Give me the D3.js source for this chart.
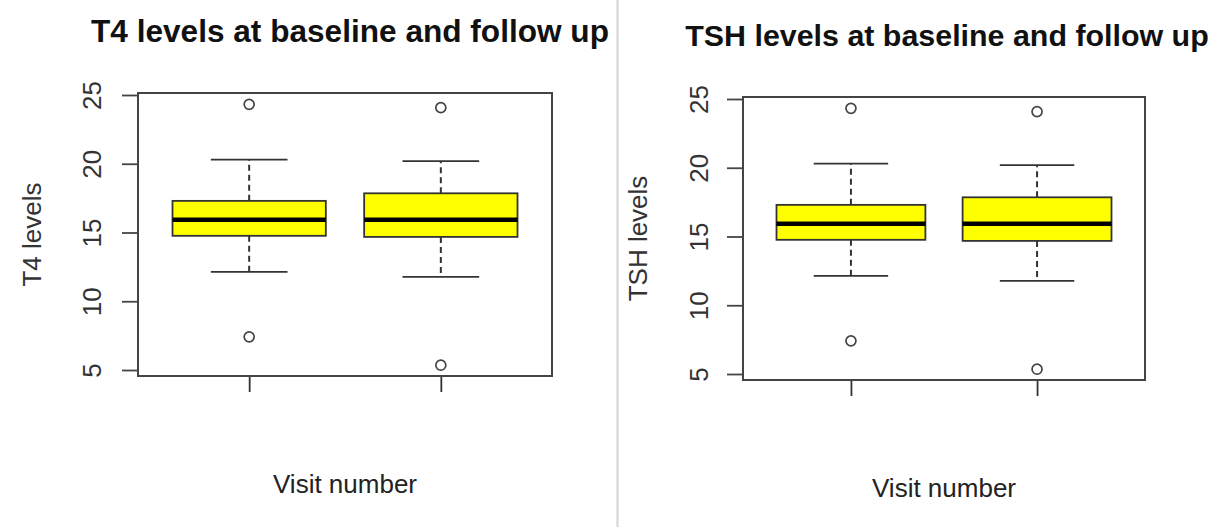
<!DOCTYPE html>
<html>
<head>
<meta charset="utf-8">
<script src="https://cdn.jsdelivr.net/npm/d3@7"></script>
<style>
  html, body { margin: 0; padding: 0; background: #fff; }
  svg { display: block; font-family: "Liberation Sans", Arial, sans-serif; }
</style>
</head>
<body>
<svg id="chart" width="1213" height="527"></svg>
<script>
// ---- Data ----
const categories = ["Baseline", "Follow up"];
const yTicks = [5, 10, 15, 20, 25];

// T4 levels
const t4WhiskerLow  = [12.13, 11.78];
const t4Q1          = [14.76, 14.68];
const t4Median      = [15.93, 15.93];
const t4Q3          = [17.30, 17.85];
const t4WhiskerHigh = [20.30, 20.19];
const t4Outliers    = [[7.41, 24.32], [5.35, 24.08]];

// TSH levels
const tshWhiskerLow  = [12.13, 11.78];
const tshQ1          = [14.76, 14.68];
const tshMedian      = [15.93, 15.93];
const tshQ3          = [17.30, 17.85];
const tshWhiskerHigh = [20.30, 20.19];
const tshOutliers    = [[7.41, 24.32], [5.35, 24.08]];

const svg = d3.select("#chart");

// separator between the two images
svg.append("line")
  .attr("x1", 617.5).attr("x2", 617.5).attr("y1", 0).attr("y2", 527)
  .attr("stroke", "#d4d4d4").attr("stroke-width", 2);

function drawPanel(p) {
  const g = svg.append("g");
  const x = d3.scaleLinear().domain([0.42, 2.58]).range([p.left, p.right]);
  const y = d3.scaleLinear().domain([4.564, 25.145]).range([p.bottom, p.top]);
  const unit = x(1) - x(0);
  const boxW = 0.8 * unit, capW = 0.4 * unit;

  // title
  g.append("text")
    .attr("x", p.titleX).attr("y", p.titleY)
    .attr("text-anchor", "middle")
    .attr("font-size", p.titleSize).attr("font-weight", "bold")
    .attr("fill", "#111")
    .text(p.title);

  // y axis
  const yAxis = g.append("g")
    .attr("transform", `translate(${p.left},0)`)
    .call(d3.axisLeft(y).tickValues(yTicks).tickSize(16).tickFormat(d3.format("d")));
  yAxis.select(".domain").remove();
  yAxis.selectAll(".tick line").attr("stroke", "#444").attr("stroke-width", 1.8);
  yAxis.selectAll(".tick text")
    .attr("x", 0).attr("dy", 0).attr("y", -p.labelOffset)
    .attr("transform", "rotate(-90)")
    .attr("text-anchor", "middle")
    .attr("font-size", 26).attr("fill", "#333")
    .attr("font-family", "Liberation Sans, Arial, sans-serif");

  // x axis (ticks only)
  const xAxis = g.append("g")
    .attr("transform", `translate(0,${p.bottom})`)
    .call(d3.axisBottom(x).tickValues([1, 2]).tickSize(16).tickFormat(""));
  xAxis.select(".domain").remove();
  xAxis.selectAll(".tick line").attr("stroke", "#333").attr("stroke-width", 1.8);

  // frame
  g.append("rect")
    .attr("x", p.left).attr("y", p.top)
    .attr("width", p.right - p.left).attr("height", p.bottom - p.top)
    .attr("fill", "none").attr("stroke", "#444").attr("stroke-width", 2);

  const idx = categories.map((c, i) => i);
  const boxes = g.selectAll(".box").data(idx).enter().append("g");

  // whiskers (dashed)
  boxes.append("line")
    .attr("x1", i => x(i + 1)).attr("x2", i => x(i + 1))
    .attr("y1", i => y(p.q3[i])).attr("y2", i => y(p.hi[i]))
    .attr("stroke", "#333").attr("stroke-width", 2).attr("stroke-dasharray", "6,4");
  boxes.append("line")
    .attr("x1", i => x(i + 1)).attr("x2", i => x(i + 1))
    .attr("y1", i => y(p.q1[i])).attr("y2", i => y(p.lo[i]))
    .attr("stroke", "#333").attr("stroke-width", 2).attr("stroke-dasharray", "6,4");
  // caps
  boxes.append("line")
    .attr("x1", i => x(i + 1) - capW / 2).attr("x2", i => x(i + 1) + capW / 2)
    .attr("y1", i => y(p.hi[i])).attr("y2", i => y(p.hi[i]))
    .attr("stroke", "#333").attr("stroke-width", 1.8);
  boxes.append("line")
    .attr("x1", i => x(i + 1) - capW / 2).attr("x2", i => x(i + 1) + capW / 2)
    .attr("y1", i => y(p.lo[i])).attr("y2", i => y(p.lo[i]))
    .attr("stroke", "#333").attr("stroke-width", 1.8);
  // box
  boxes.append("rect")
    .attr("x", i => x(i + 1) - boxW / 2).attr("width", boxW)
    .attr("y", i => y(p.q3[i])).attr("height", i => y(p.q1[i]) - y(p.q3[i]))
    .attr("fill", "#ffff00").attr("stroke", "#333").attr("stroke-width", 1.8);
  // median
  boxes.append("line")
    .attr("x1", i => x(i + 1) - boxW / 2).attr("x2", i => x(i + 1) + boxW / 2)
    .attr("y1", i => y(p.med[i])).attr("y2", i => y(p.med[i]))
    .attr("stroke", "#000").attr("stroke-width", 4.5);
  // outliers
  boxes.selectAll("circle").data(i => p.out[i].map(v => ({ i, v }))).enter().append("circle")
    .attr("cx", d => x(d.i + 1)).attr("cy", d => y(d.v)).attr("r", 5)
    .attr("fill", "none").attr("stroke", "#444").attr("stroke-width", 1.7);

  // y label
  g.append("text")
    .attr("transform", `translate(${p.yLabelX},${(p.top + p.bottom) / 2}) rotate(-90)`)
    .attr("text-anchor", "middle")
    .attr("font-size", 26).attr("fill", "#333")
    .text(p.yLabel);

  // x label
  g.append("text")
    .attr("x", (p.left + p.right) / 2).attr("y", p.xLabelY)
    .attr("text-anchor", "middle")
    .attr("font-size", 26).attr("fill", "#222")
    .text("Visit number");
}

drawPanel({
  left: 138, right: 552, top: 93, bottom: 376,
  title: "T4 levels at baseline and follow up", titleX: 350, titleY: 42, titleSize: 31.6,
  yLabel: "T4 levels", yLabelX: 41, xLabelY: 493, labelOffset: 37,
  lo: t4WhiskerLow, q1: t4Q1, med: t4Median, q3: t4Q3, hi: t4WhiskerHigh, out: t4Outliers
});

drawPanel({
  left: 743, right: 1145, top: 97, bottom: 380,
  title: "TSH levels at baseline and follow up", titleX: 947, titleY: 46, titleSize: 30.4,
  yLabel: "TSH levels", yLabelX: 647, xLabelY: 497, labelOffset: 35,
  lo: tshWhiskerLow, q1: tshQ1, med: tshMedian, q3: tshQ3, hi: tshWhiskerHigh, out: tshOutliers
});
</script>
</body>
</html>
